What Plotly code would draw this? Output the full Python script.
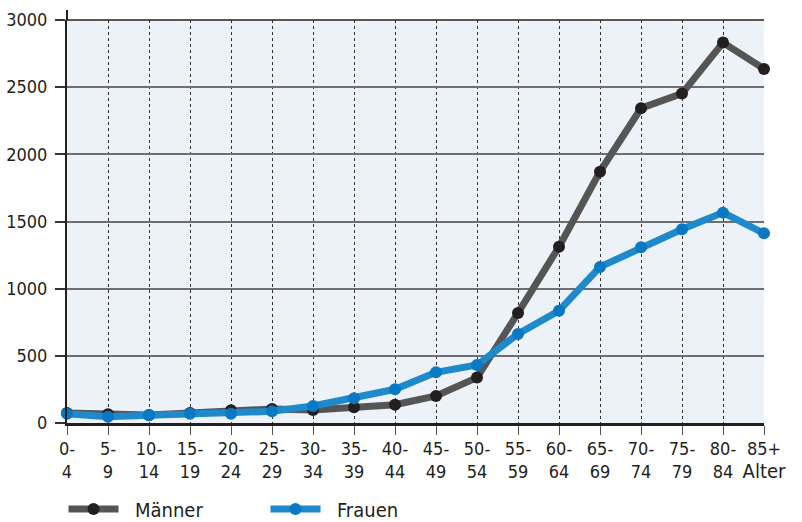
import plotly.graph_objects as go

categories = ["0-<br>4", "5-<br>9", "10-<br>14", "15-<br>19", "20-<br>24", "25-<br>29",
              "30-<br>34", "35-<br>39", "40-<br>44", "45-<br>49", "50-<br>54", "55-<br>59",
              "60-<br>64", "65-<br>69", "70-<br>74", "75-<br>79", "80-<br>84",
              "85+<br><span style='font-size:20px'>Alter</span>"]
maenner = [75, 65, 60, 75, 95, 104, 97, 117, 136, 201, 338, 819,
           1312, 1871, 2343, 2452, 2832, 2636]
frauen = [69, 47, 57, 69, 69, 87, 127, 184, 251, 377, 432, 663,
          836, 1162, 1308, 1442, 1566, 1412]
y_ticks = [0, 500, 1000, 1500, 2000, 2500, 3000]

x = list(range(len(categories)))
FONT = "DejaVu Sans Condensed, Liberation Sans Narrow, sans-serif"
DARK = "#231f20"
PAD = "\u00a0\u00a0"

fig = go.Figure()
fig.add_trace(go.Scatter(
    x=x, y=maenner, name=PAD + "Männer", mode="lines+markers",
    line=dict(color="#555555", width=7),
    marker=dict(color=DARK, size=12),
    cliponaxis=False,
))
fig.add_trace(go.Scatter(
    x=x, y=frauen, name=PAD + "Frauen", mode="lines+markers",
    line=dict(color="#1f8acb", width=7),
    marker=dict(color="#0a78c2", size=12),
    cliponaxis=False,
))

fig.update_layout(
    width=802, height=522,
    margin=dict(l=67, r=38, t=20, b=99, autoexpand=False),
    paper_bgcolor="white",
    plot_bgcolor="#edf2f9",
    font=dict(family=FONT, size=18, color=DARK),
    showlegend=True,
    legend=dict(
        orientation="h", x=-0.005, xanchor="left", y=-0.165, yanchor="top",
        font=dict(size=20, color=DARK),
        entrywidth=137, entrywidthmode="pixels",
        itemwidth=50,
    ),
    xaxis=dict(
        range=[0, 17], tickvals=x, ticktext=categories,
        showgrid=True, gridcolor="#333333", griddash="dot", gridwidth=1,
        ticks="outside", ticklen=9, tickcolor="#555555", tickwidth=1,
        showline=True, linecolor=DARK, linewidth=3,
        zeroline=False, tickfont=dict(size=18), automargin=False,
        ticklabelstandoff=-2,
    ),
    yaxis=dict(
        range=[0, 3000], tickvals=y_ticks,
        showgrid=True, gridcolor="#6e6e6e", gridwidth=1.5,
        ticks="outside", ticklen=10, tickcolor="#333333", tickwidth=1.5,
        showline=True, linecolor=DARK, linewidth=2,
        zeroline=False, tickfont=dict(size=18), ticklabelstandoff=4,
        automargin=False,
    ),
)

# top border and axis extension above the plot
fig.add_shape(type="line", xref="paper", yref="paper", x0=0, x1=1, y0=1, y1=1,
              line=dict(color=DARK, width=1.5))
fig.add_shape(type="line", xref="paper", yref="paper", x0=0, x1=0, y0=1, y1=1.025,
              line=dict(color=DARK, width=2))

fig.write_html("out.html")
